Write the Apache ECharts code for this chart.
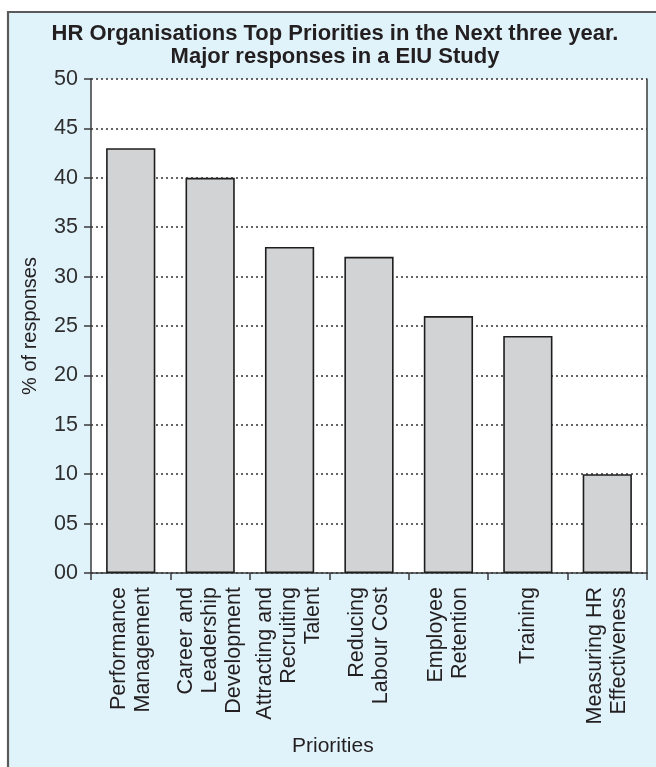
<!DOCTYPE html>
<html>
<head>
<meta charset="utf-8">
<script src="https://cdn.jsdelivr.net/npm/echarts@6/dist/echarts.min.js"></script>
<style>
  html, body { margin: 0; padding: 0; background: #ffffff; }
  #chart { width: 656px; height: 767px; }
</style>
</head>
<body>
<div id="chart"></div>
<script>
// Survey priorities and share of responses (%)
const categories = [
  'Performance\nManagement',
  'Career and\nLeadership\nDevelopment',
  'Attracting and\nRecruiting\nTalent',
  'Reducing\nLabour Cost',
  'Employee\nRetention',
  'Training',
  'Measuring HR\nEffectiveness'
];
const responses = [43, 40, 33, 32, 26, 24, 10];

// Value axis range and step
const yMin = 0;
const yMax = 50;
const yStep = 5;

const titleLines = [
  'HR Organisations Top Priorities in the Next three year.',
  'Major responses in a EIU Study'
];
const yAxisTitle = '% of responses';
const xAxisTitle = 'Priorities';

const FONT = '"Liberation Sans", Arial, Helvetica, sans-serif';
const INK = '#231f20';
const AXIS = '#3a3a3a';

const chart = echarts.init(document.getElementById('chart'), null, { renderer: 'canvas' });

chart.setOption({
  backgroundColor: '#ffffff',
  animation: false,
  graphic: [
    {
      type: 'rect',
      z: -10,
      shape: { x: 8, y: 12, width: 720, height: 820 },
      style: { fill: '#e0f2fa', stroke: '#5a5a5a', lineWidth: 2.2 }
    },
    {
      type: 'text',
      left: 292,
      top: 736,
      style: {
        text: xAxisTitle,
        fontFamily: FONT,
        fontSize: 21,
        fill: INK
      }
    }
  ],
  title: {
    text: titleLines.join('\n'),
    left: 335,
    top: 22,
    padding: 0,
    textAlign: 'center',
    textStyle: {
      fontFamily: FONT,
      fontSize: 22,
      fontWeight: 'bold',
      lineHeight: 23,
      color: INK
    }
  },
  grid: {
    left: 91,
    right: 9,
    top: 79,
    bottom: 194,
    show: true,
    backgroundColor: '#ffffff',
    borderWidth: 0
  },
  xAxis: {
    type: 'category',
    data: categories,
    boundaryGap: true,
    axisLine: { show: true, lineStyle: { color: AXIS, width: 1.5 } },
    axisTick: { show: true, length: 7, lineStyle: { color: AXIS, width: 1.5 } },
    axisLabel: {
      rotate: 90,
      interval: 0,
      margin: 14,
      fontFamily: FONT,
      fontSize: 21.5,
      lineHeight: 24,
      color: INK
    },
    splitLine: { show: false }
  },
  yAxis: [
    {
      type: 'value',
      min: yMin,
      max: yMax,
      interval: yStep,
      name: yAxisTitle,
      nameLocation: 'middle',
      nameGap: 51,
      nameTextStyle: { fontFamily: FONT, fontSize: 20, color: INK },
      axisLine: { show: true, lineStyle: { color: AXIS, width: 1.5 } },
      axisTick: { show: true, length: 7, lineStyle: { color: AXIS, width: 1.5 } },
      axisLabel: {
        margin: 13,
        fontFamily: FONT,
        fontSize: 21.5,
        color: '#2e2e2e',
        formatter: v => String(v).padStart(2, '0')
      },
      splitLine: {
        show: true,
        lineStyle: { color: '#333333', width: 1.6, type: [2, 3] }
      }
    },
    {
      type: 'value',
      position: 'right',
      min: yMin,
      max: yMax,
      interval: yStep,
      axisLine: { show: true, lineStyle: { color: AXIS, width: 1.5 } },
      axisTick: { show: false },
      axisLabel: { show: false },
      splitLine: { show: false }
    }
  ],
  series: [
    {
      type: 'bar',
      yAxisIndex: 0,
      data: responses,
      barWidth: '62%',
      itemStyle: {
        color: '#d2d3d5',
        borderColor: '#1e1e1e',
        borderWidth: 1.6
      }
    }
  ]
});
</script>
</body>
</html>
